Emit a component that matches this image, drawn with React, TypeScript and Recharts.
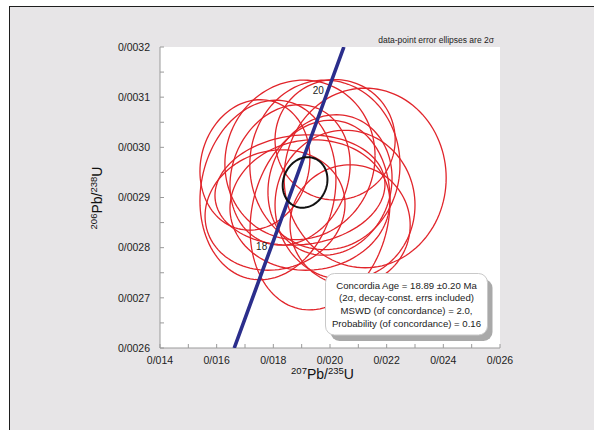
import React from 'react';
import { ScatterChart, Scatter, XAxis, YAxis, CartesianGrid } from 'recharts';

// Axis ticks (minor ticks have no label)
const xTicks = [0.014, 0.015, 0.016, 0.017, 0.018, 0.019, 0.02, 0.021, 0.022, 0.023, 0.024, 0.025, 0.026];
const yTicks = [0.0026, 0.00265, 0.0027, 0.00275, 0.0028, 0.00285, 0.0029, 0.00295, 0.003, 0.00305, 0.0031, 0.00315, 0.0032];

// Measured ratios with 2-sigma errors and error correlation
const pb207u235 = [0.01781, 0.01894, 0.01982, 0.02124, 0.02, 0.01859, 0.01929, 0.01965, 0.01806, 0.02053, 0.01894, 0.01735, 0.02018, 0.02071];
const pb207u235Err = [0.0024, 0.00265, 0.00265, 0.00286, 0.00219, 0.00212, 0.00282, 0.00247, 0.00247, 0.00247, 0.003, 0.00194, 0.00212, 0.00212];
const pb206u238 = [0.002915, 0.002975, 0.002965, 0.002939, 0.002925, 0.002945, 0.002885, 0.002865, 0.002875, 0.002885, 0.002915, 0.002965, 0.003015, 0.002845];
const pb206u238Err = [0.000179, 0.000159, 0.000169, 0.000179, 0.00014, 0.00014, 0.00013, 0.000189, 0.00012, 0.000149, 0.00011, 0.00013, 0.00012, 0.00012];
const errRho = [0.12, 0.05, 0, 0, 0.1, 0.15, 0.05, 0.15, 0.1, 0, 0.1, 0.1, 0, 0];

// Concordia age ellipse (weighted mean)
const meanPoint = { x: 0.01912, sx: 0.00079, y: 0.00293, sy: 0.0000504, rho: 0.12 };

// Concordia curve across the plotted window
const concordiaX = [0.01662, 0.01789, 0.01989, 0.02049];
const concordiaY = [0.0026, 0.0027962, 0.0031073, 0.0032];

// Age marks on the concordia (Ma)
const ageMarks = [
  { x: 0.01789, y: 0.0027962, age: 18 },
  { x: 0.01989, y: 0.0031073, age: 20 },
];

const resultLines = [
  'Concordia Age = 18.89 \u00b10.20 Ma',
  '(2\u03c3, decay-const. errs included)',
  'MSWD (of concordance) = 2.0,',
  'Probability (of concordance) = 0.16',
];

const FONT = '"Liberation Sans", Arial, Helvetica, sans-serif';

function ellipseOutline(cx: number, sx: number, cy: number, sy: number, rho: number, n = 120) {
  const pts: { x: number; y: number }[] = [];
  const k = Math.sqrt(1 - rho * rho);
  for (let i = 0; i <= n; i++) {
    const t = (i / n) * Math.PI * 2;
    pts.push({ x: cx + sx * Math.cos(t), y: cy + sy * (rho * Math.cos(t) + k * Math.sin(t)) });
  }
  return pts;
}

const ellipses = pb207u235.map((x, i) =>
  ellipseOutline(x, pb207u235Err[i], pb206u238[i], pb206u238Err[i], errRho[i])
);
const meanEllipse = ellipseOutline(meanPoint.x, meanPoint.sx, meanPoint.y, meanPoint.sy, meanPoint.rho);
const concordia = concordiaX.map((x, i) => ({ x, y: concordiaY[i] }));

const NoDot = () => <g />;

const XTick = (props: any) => {
  const { x, y, payload } = props;
  const v: number = payload.value;
  if (Math.round(v * 1000) % 2 !== 0) return <g />;
  return (
    <text x={x} y={y} dy="0.71em" textAnchor="middle" fontFamily={FONT} fontSize={10.5} fill="#222">
      {v.toFixed(3).replace('.', '/')}
    </text>
  );
};

const YTick = (props: any) => {
  const { x, y, payload } = props;
  const v: number = payload.value;
  if (Math.round(v * 100000) % 10 !== 0) return <g />;
  return (
    <text x={x} y={y} dy="0.35em" textAnchor="end" fontFamily={FONT} fontSize={10.5} fill="#222">
      {v.toFixed(4).replace('.', '/')}
    </text>
  );
};

const AgeLabel = (props: any) => {
  const { cx, cy, payload } = props;
  return (
    <text x={cx - 3} y={cy} textAnchor="end" fontFamily={FONT} fontSize={10} fill="#222">
      {payload.age}
    </text>
  );
};

export default function App() {
  return (
    <div style={{ position: 'absolute', left: 0, top: 0, width: 594, height: 430, background: '#fff', overflow: 'hidden' }}>
      <div
        style={{
          position: 'absolute',
          left: 9,
          top: 6,
          width: 600,
          height: 440,
          background: '#e7e5e7',
          borderLeft: '1.5px solid #1e1e1e',
          borderTop: '1.5px solid #1e1e1e',
        }}
      />
      <div style={{ position: 'absolute', left: 0, top: 0 }}>
        <ScatterChart width={594} height={430} margin={{ top: 47, right: 94, bottom: 42, left: 80 }}>
          <CartesianGrid horizontal={false} vertical={false} fill="#ffffff" stroke="none" />
          <XAxis
            type="number"
            dataKey="x"
            domain={[0.014, 0.026]}
            ticks={xTicks}
            allowDataOverflow
            height={40}
            tickSize={-4}
            tickMargin={13}
            stroke="#9a9a9a"
            tick={<XTick />}
            interval={0}
          />
          <XAxis
            xAxisId="top"
            orientation="top"
            type="number"
            domain={[0.014, 0.026]}
            height={0}
            tick={false}
            tickLine={false}
            axisLine={{ stroke: '#222', strokeWidth: 1.3 }}
          />
          <YAxis
            type="number"
            dataKey="y"
            domain={[0.0026, 0.0032]}
            ticks={yTicks}
            allowDataOverflow
            width={80}
            tickSize={-4}
            tickMargin={14}
            stroke="#9a9a9a"
            tick={<YTick />}
            interval={0}
          />
          <YAxis
            yAxisId="right"
            orientation="right"
            type="number"
            domain={[0.0026, 0.0032]}
            width={0}
            tick={false}
            tickLine={false}
            axisLine={{ stroke: '#555', strokeWidth: 1.3 }}
          />
          {ellipses.map((pts, i) => (
            <Scatter
              key={i}
              data={pts}
              fill="none"
              line={{ stroke: '#e1252b', strokeWidth: 1.3 }}
              lineType="joint"
              shape={NoDot}
              isAnimationActive={false}
            />
          ))}
          <Scatter
            data={concordia}
            fill="none"
            line={{ stroke: '#2b2e8c', strokeWidth: 3.6 }}
            lineType="joint"
            shape={NoDot}
            isAnimationActive={false}
          />
          <Scatter
            data={meanEllipse}
            fill="none"
            line={{ stroke: '#111', strokeWidth: 2 }}
            lineType="joint"
            shape={NoDot}
            isAnimationActive={false}
          />
          <Scatter data={ageMarks} fill="none" shape={AgeLabel} isAnimationActive={false} />
        </ScatterChart>
      </div>
      <svg width={594} height={430} style={{ position: 'absolute', left: 0, top: 0 }}>
        <text x={494} y={43} textAnchor="end" fontFamily={FONT} fontSize={8.5} fill="#222">
          data-point error ellipses are 2{'\u03c3'}
        </text>
        <text x={322.5} y={379} textAnchor="middle" fontFamily={FONT} fill="#111">
          <tspan fontSize={9.5} dy={-5}>207</tspan>
          <tspan fontSize={14} dy={5}>Pb/</tspan>
          <tspan fontSize={9.5} dy={-5}>235</tspan>
          <tspan fontSize={14} dy={5}>U</tspan>
        </text>
        <text x={102} y={198} textAnchor="middle" fontFamily={FONT} fill="#111" transform="rotate(-90, 102, 198)">
          <tspan fontSize={9.5} dy={-5}>206</tspan>
          <tspan fontSize={14} dy={5}>Pb/</tspan>
          <tspan fontSize={9.5} dy={-5}>238</tspan>
          <tspan fontSize={14} dy={5}>U</tspan>
        </text>
        <rect x={330.5} y={279} width={162} height={62} rx={9} fill="#a9a9a9" />
        <rect x={325.5} y={273.5} width={162} height={61.5} rx={9} fill="#fff" stroke="#c9c9c9" strokeWidth={1} />
        {resultLines.map((line, i) => (
          <text key={i} x={406.5} y={288.5 + i * 12.8} textAnchor="middle" fontFamily={FONT} fontSize={9.6} fill="#222">
            {line}
          </text>
        ))}
      </svg>
    </div>
  );
}
